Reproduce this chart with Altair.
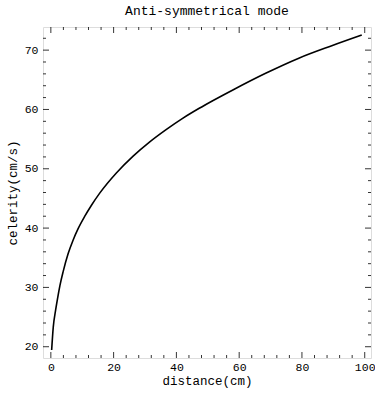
import altair as alt
import pandas as pd

# Curve values
distance = [0.26, 0.77, 1.53, 2.16, 2.89, 3.94, 5.52, 7.11, 8.69, 10.82, 12.94, 15.57,
            20.87, 26.13, 31.42, 36.72, 41.98, 47.28, 52.0, 57.84, 68.43, 79.0, 89.5, 99.05]
celerity = [19.45, 23.3, 26.2, 28.2, 30.3, 32.7, 35.7, 38.0, 39.9, 42.0, 43.85, 45.9,
            49.3, 52.1, 54.5, 56.6, 58.5, 60.2, 61.6, 63.25, 66.1, 68.65, 70.75, 72.55]

x_major = [0, 20, 40, 60, 80, 100]
x_minor = [v for v in range(0, 101, 4) if v % 20 != 0]
y_major = [20, 30, 40, 50, 60, 70]
y_minor = [v for v in range(20, 73, 2) if v % 10 != 0]

W, H = 328, 331
FONT = "Liberation Mono"
XDOM = [-2.5, 102]
YDOM = [18.1, 73.9]

curve_df = pd.DataFrame({"distance": distance, "celerity": celerity})
xs = alt.Scale(domain=XDOM, nice=False, zero=False)
ys = alt.Scale(domain=YDOM, nice=False, zero=False)

xaxis = alt.Axis(values=x_major, ticks=False, domain=False, grid=False,
                 labelFont=FONT, labelFontSize=11.5, labelColor="black", labelPadding=3,
                 title="distance(cm)", titleFont=FONT, titleFontSize=12.5,
                 titleFontWeight="normal", titleColor="black", titlePadding=2)
yaxis = alt.Axis(values=y_major, ticks=False, domain=False, grid=False,
                 labelFont=FONT, labelFontSize=11.5, labelColor="black", labelPadding=5,
                 title="celerity(cm/s)", titleFont=FONT, titleFontSize=12.5,
                 titleFontWeight="normal", titleColor="black", titlePadding=5)

line = alt.Chart(curve_df).mark_line(color="black", strokeWidth=1.6, interpolate="monotone").encode(
    x=alt.X("distance:Q", scale=xs, axis=xaxis, title="distance(cm)"),
    y=alt.Y("celerity:Q", scale=ys, axis=yaxis, title="celerity(cm/s)"),
)

def xticks(vals, length):
    df = pd.DataFrame({"v": vals})
    enc_x = alt.X("v:Q", scale=xs, axis=xaxis, title="distance(cm)")
    bottom = alt.Chart(df).mark_rule(color="black", strokeWidth=0.8).encode(
        x=enc_x, y=alt.value(H), y2=alt.value(H - length))
    top = alt.Chart(df).mark_rule(color="black", strokeWidth=0.8).encode(
        x=enc_x, y=alt.value(0), y2=alt.value(length))
    return [bottom, top]

def yticks(vals, length):
    df = pd.DataFrame({"v": vals})
    enc_y = alt.Y("v:Q", scale=ys, axis=yaxis, title="celerity(cm/s)")
    left = alt.Chart(df).mark_rule(color="black", strokeWidth=0.8).encode(
        y=enc_y, x=alt.value(0), x2=alt.value(length))
    right = alt.Chart(df).mark_rule(color="black", strokeWidth=0.8).encode(
        y=enc_y, x=alt.value(W), x2=alt.value(W - length))
    return [left, right]

layers = [line] + xticks(x_major, 6) + xticks(x_minor, 3) + yticks(y_major, 6) + yticks(y_minor, 3)

chart = alt.layer(*layers).properties(
    width=W, height=H,
    title=alt.TitleParams("Anti-symmetrical mode", font=FONT, fontSize=13,
                          fontWeight="normal", color="black", offset=9),
    autosize=alt.AutoSizeParams(type="none"),
    padding={"left": 43, "top": 27, "right": 4, "bottom": 36},
).configure_view(stroke="black", strokeWidth=1.2).configure(background="white")

chart.save("out.html", embed_options={"renderer": "svg", "actions": False})
